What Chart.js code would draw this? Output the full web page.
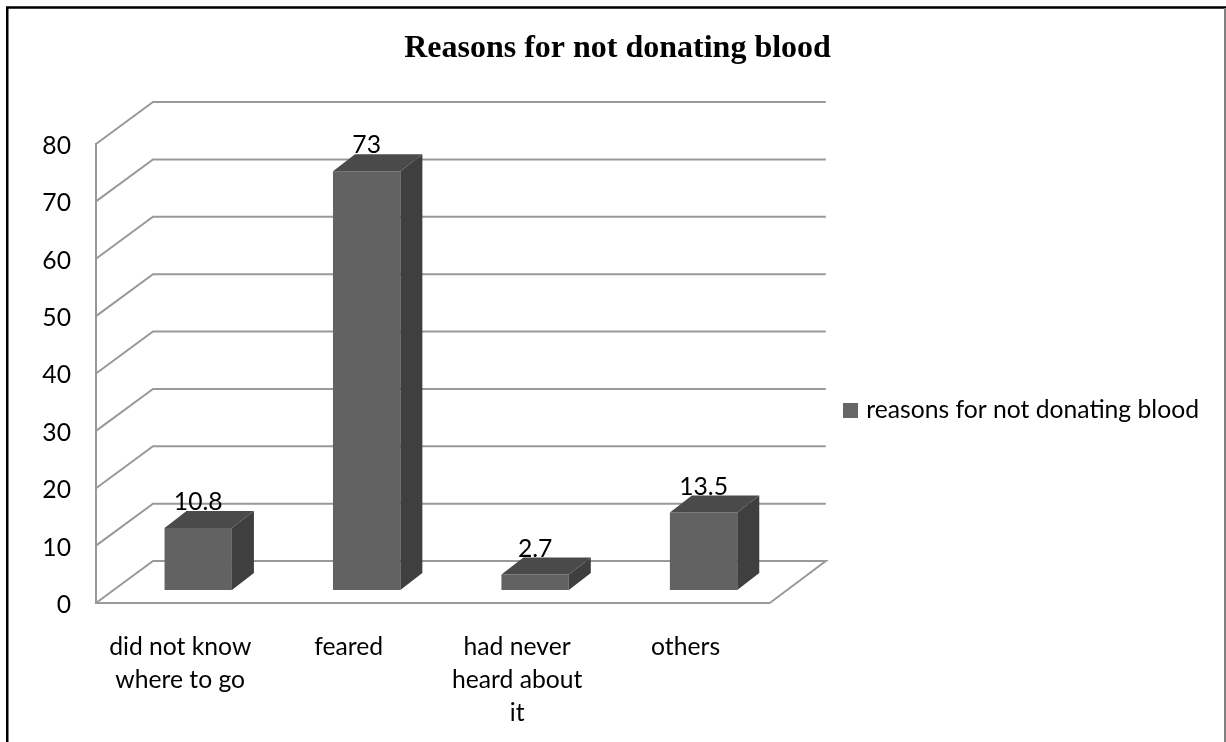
<!DOCTYPE html>
<html>
<head>
<meta charset="utf-8">
<style>
  html, body { margin: 0; padding: 0; background: #fff; }
  #wrap { position: relative; width: 1226px; height: 742px; }
  canvas { display: block; }
</style>
<script src="https://cdn.jsdelivr.net/npm/chart.js@4"></script>
</head>
<body>
<div id="wrap"><canvas id="chart" width="1226" height="742"></canvas></div>
<script>
const categories = [["did not know", "where to go"], "feared", ["had never", "heard about", "it"], "others"];
const seriesName = "reasons for not donating blood";
const seriesValues = [10.8, 73, 2.7, 13.5];
const valueLabels = ["10.8", "73", "2.7", "13.5"];
const axisMax = 80;
const axisStep = 10;

const LABEL_FONT = "Lato";
const LABEL_SIZE = 24.7;
const WALL = { dx: 57, dy: -42 };       // offset from the front plane to the back wall
const BAR_SHIFT = { dx: 18, dy: -13 };  // bars stand part way into the floor
const BAR_DEPTH = { dx: 22, dy: -17 };  // extrusion of each bar
const GRID = "#999999";
const LEGEND_DROP = 24.5;               // legend sits lower than the layout centre

// Square legend key with a tight gap to its text.
const legendKey = document.createElement("canvas");
legendKey.width = 15;
legendKey.height = 15;
const keyCtx = legendKey.getContext("2d");
keyCtx.fillStyle = "#666666";
keyCtx.fillRect(0, 0, 15, 15);

// Back wall, floor edge and the slanted wall lines behind the bars.
const wallPlugin = {
  id: "wall",
  afterLayout(chart) {
    chart.legend.top += LEGEND_DROP;
    chart.legend.bottom += LEGEND_DROP;
  },
  beforeDatasetsDraw(chart) {
    const { ctx, scales: { x, y } } = chart;
    ctx.save();
    ctx.strokeStyle = GRID;
    ctx.lineWidth = 2;
    ctx.lineJoin = "miter";
    for (const t of y.ticks) {
      const py = y.getPixelForValue(t.value);
      ctx.beginPath();
      ctx.moveTo(x.left, py);
      ctx.lineTo(x.left + WALL.dx, py + WALL.dy);
      ctx.lineTo(x.right + WALL.dx - 1, py + WALL.dy);
      if (t.value === 0) ctx.lineTo(x.right, py);
      ctx.stroke();
    }
    ctx.restore();
    // Bars are drawn shifted into the floor.
    ctx.save();
    ctx.translate(BAR_SHIFT.dx, BAR_SHIFT.dy);
  },
  afterDatasetsDraw(chart) {
    const { ctx } = chart;
    const meta = chart.getDatasetMeta(0);
    meta.data.forEach((bar) => {
      const p = bar.getProps(["x", "y", "base", "width"], true);
      const l = p.x - p.width / 2, r = p.x + p.width / 2;
      // side face
      ctx.fillStyle = "#3f3f3f";
      ctx.beginPath();
      ctx.moveTo(r, p.y);
      ctx.lineTo(r + BAR_DEPTH.dx, p.y + BAR_DEPTH.dy);
      ctx.lineTo(r + BAR_DEPTH.dx, p.base + BAR_DEPTH.dy);
      ctx.lineTo(r, p.base);
      ctx.closePath();
      ctx.fill();
      // top face
      ctx.fillStyle = "#4a4a4a";
      ctx.beginPath();
      ctx.moveTo(l, p.y);
      ctx.lineTo(l + BAR_DEPTH.dx, p.y + BAR_DEPTH.dy);
      ctx.lineTo(r + BAR_DEPTH.dx, p.y + BAR_DEPTH.dy);
      ctx.lineTo(r, p.y);
      ctx.closePath();
      ctx.fill();
    });
    ctx.restore();
    // value labels sit on the back edge of each bar's top face
    ctx.save();
    ctx.font = LABEL_SIZE + "px " + LABEL_FONT;
    ctx.fillStyle = "#000";
    ctx.textAlign = "center";
    ctx.textBaseline = "alphabetic";
    meta.data.forEach((bar, i) => {
      const p = bar.getProps(["x", "y"], true);
      ctx.fillText(valueLabels[i], p.x + BAR_SHIFT.dx, p.y + BAR_SHIFT.dy + BAR_DEPTH.dy - 1);
    });
    ctx.restore();
  },
  // Page frame: open along the bottom edge.
  afterDraw(chart) {
    const { ctx } = chart;
    ctx.save();
    ctx.strokeStyle = "#000";
    ctx.lineWidth = 2.5;
    ctx.beginPath();
    ctx.moveTo(7.25, 742);
    ctx.lineTo(7.25, 7.5);
    ctx.lineTo(1226, 7.5);
    ctx.stroke();
    ctx.strokeStyle = "#808080";
    ctx.lineWidth = 2;
    ctx.beginPath();
    ctx.moveTo(1225, 8);
    ctx.lineTo(1225, 742);
    ctx.stroke();
    ctx.restore();
  }
};

new Chart(document.getElementById("chart"), {
  type: "bar",
  plugins: [wallPlugin],
  data: {
    labels: categories,
    datasets: [{
      label: seriesName,
      data: seriesValues,
      backgroundColor: "#626262",
      borderWidth: 0,
      barPercentage: 0.8,
      categoryPercentage: 0.5
    }]
  },
  options: {
    responsive: false,
    animation: false,
    layout: { padding: { left: 26, right: 17, top: 30, bottom: 0 } },
    plugins: {
      tooltip: { enabled: false },
      title: {
        display: true,
        text: "Reasons for not donating blood",
        color: "#000",
        font: { family: "'Liberation Serif'", size: 32, weight: "bold" },
        padding: { top: 0, bottom: 75.6 }
      },
      legend: {
        position: "right",
        maxWidth: 440,
        labels: {
          color: "#000",
          font: { family: LABEL_FONT, size: LABEL_SIZE },
          usePointStyle: true,
          pointStyle: legendKey,
          pointStyleWidth: 7,
          padding: 77
        }
      }
    },
    scales: {
      x: {
        grid: { display: false },
        border: { display: true, color: GRID, width: 2 },
        ticks: {
          color: "#000",
          autoSkip: false,
          maxRotation: 0,
          padding: 20,
          font: { family: LABEL_FONT, size: LABEL_SIZE, lineHeight: 1.336 }
        },
        afterFit(s) { s.height = 139; }
      },
      y: {
        min: 0,
        max: axisMax,
        grid: { display: false },
        border: { display: true, color: GRID, width: 2 },
        ticks: {
          stepSize: axisStep,
          color: "#000",
          padding: 17,
          labelOffset: 2,
          font: { family: LABEL_FONT, size: LABEL_SIZE }
        },
        afterFit(s) { s.width = 70; }
      }
    }
  }
});
</script>
</body>
</html>
